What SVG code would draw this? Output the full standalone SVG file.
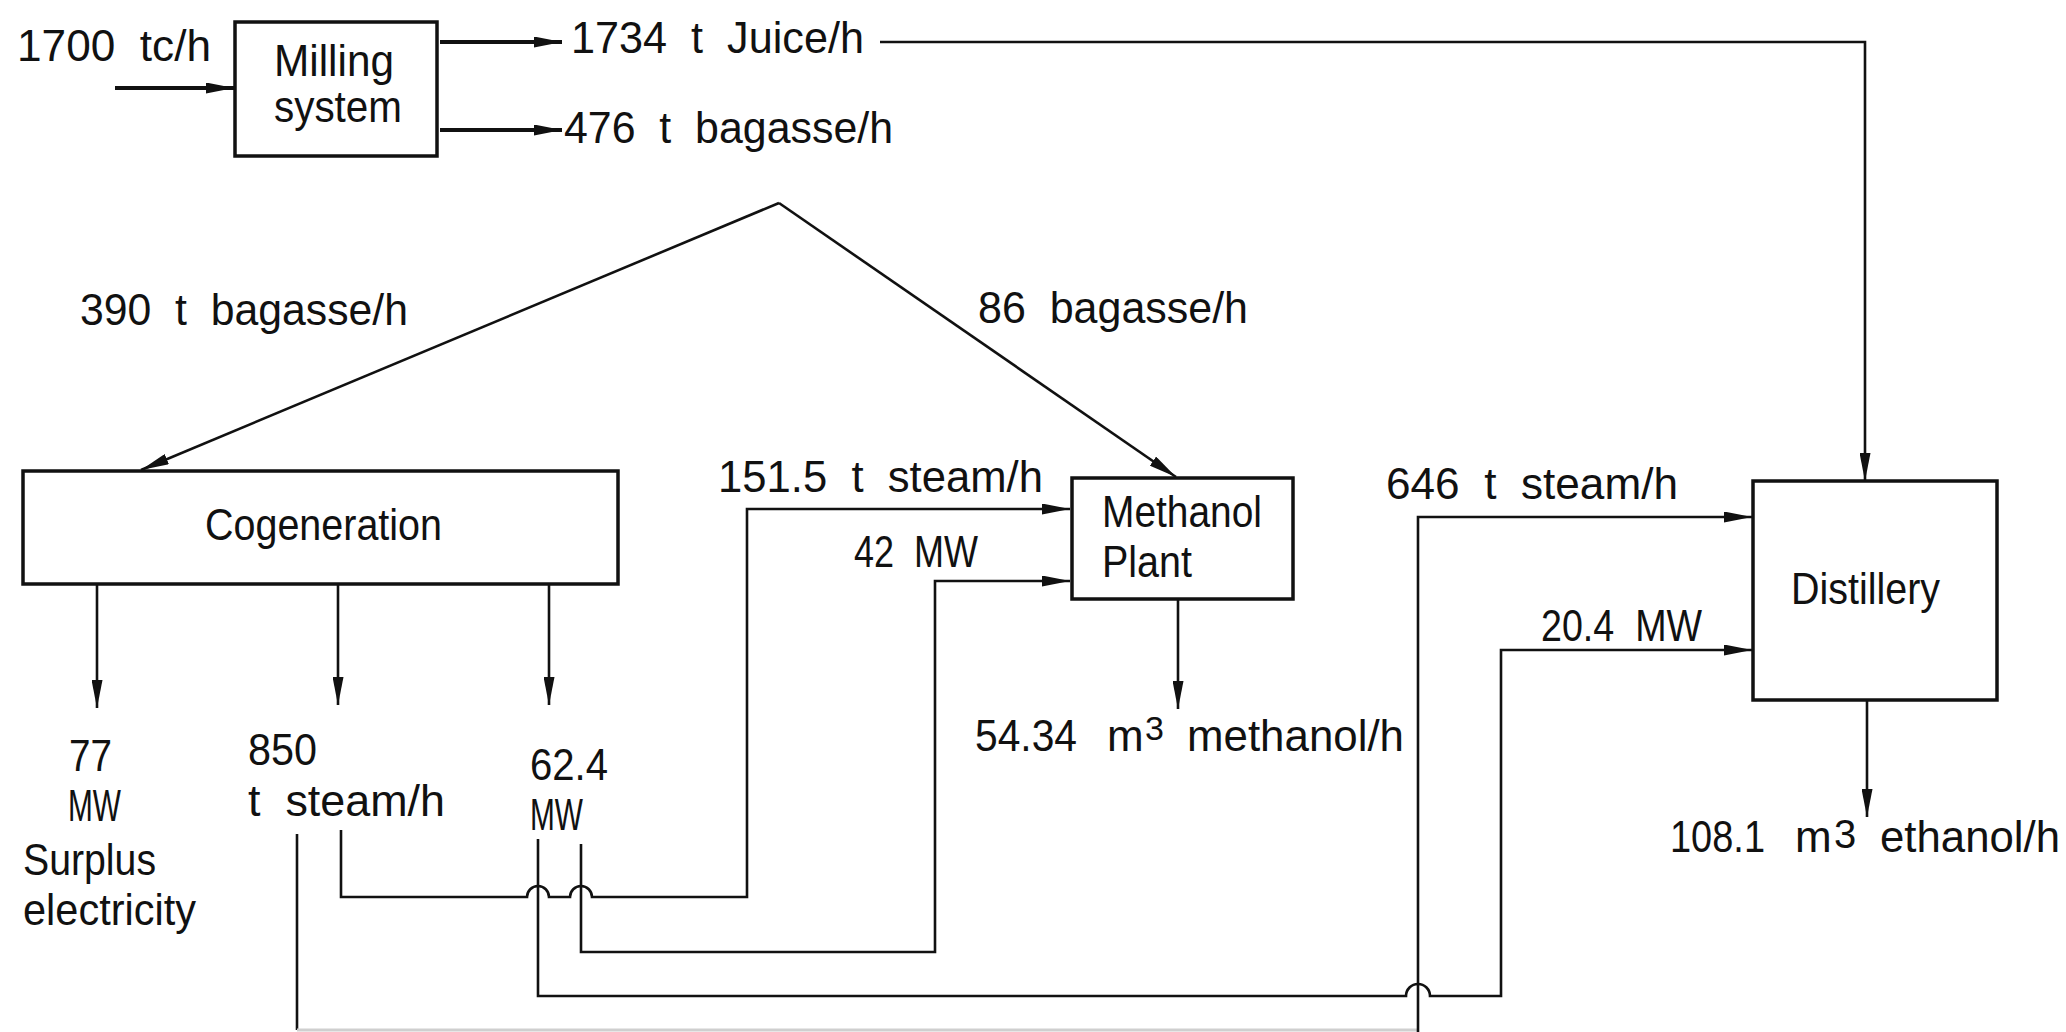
<svg xmlns="http://www.w3.org/2000/svg" width="2066" height="1032" viewBox="0 0 2066 1032">
<defs>
<marker id="ah" viewBox="0 0 28 11" refX="28" refY="5.5" markerWidth="28" markerHeight="11" markerUnits="userSpaceOnUse" orient="auto">
<path d="M0,0 L28,5.5 L0,11 z" fill="#111"/>
</marker>
</defs>
<style>
.t{font-family:"Liberation Sans","DejaVu Sans",sans-serif;font-size:44px;fill:#111}
.box{fill:#fff;stroke:#111;stroke-width:3.5}
.c{fill:none;stroke:#111;stroke-width:2.6}
.ct{fill:none;stroke:#111;stroke-width:4}
.a{marker-end:url(#ah)}
</style>
<rect width="2066" height="1032" fill="#fff"/>
<g id="connectors">
<path class="ct a" d="M115,88 H234"/>
<path class="ct a" d="M440,42 H562"/>
<path class="ct a" d="M440,130 H562"/>
<path class="c a" d="M880,42 H1865 V481"/>
<path class="c a" d="M779,203 L141,470"/>
<path class="c a" d="M779,203 L1176,477"/>
<path class="c a" d="M97,584 V708"/>
<path class="c a" d="M338,584 V705"/>
<path class="c a" d="M549,584 V705"/>
<path class="c a" d="M341,830 V897 H527 A11,11 0 0 1 549,897 H570 A11,11 0 0 1 592,897 H747 V509 H1070"/>
<path class="c a" d="M581,844 V952 H935 V581 H1070"/>
<path class="c a" d="M538,839 V996 H1406 A12,12 0 0 1 1430,996 H1501 V650 H1752"/>
<path class="c" d="M297,834 V1030"/>
<path fill="none" stroke="#cfcfcf" stroke-width="3" d="M297,1030 H1418"/>
<path class="c a" d="M1418,1032 V517 H1752"/>
<path class="c a" d="M1178,599 V709"/>
<path class="c a" d="M1867,700 V817"/>
</g>
<g id="milling">
<rect class="box" x="235" y="22" width="202" height="134"/>
<text class="t" x="274" y="76" textLength="120" lengthAdjust="spacingAndGlyphs">Milling</text>
<text class="t" x="274" y="122" textLength="128" lengthAdjust="spacingAndGlyphs">system</text>
</g>
<g id="cogeneration">
<rect class="box" x="23" y="471" width="595" height="113"/>
<text class="t" x="205" y="540" textLength="237" lengthAdjust="spacingAndGlyphs">Cogeneration</text>
</g>
<g id="methanol">
<rect class="box" x="1072" y="478" width="221" height="121"/>
<text class="t" x="1102" y="527" textLength="160" lengthAdjust="spacingAndGlyphs">Methanol</text>
<text class="t" x="1102" y="577" textLength="90" lengthAdjust="spacingAndGlyphs">Plant</text>
</g>
<g id="distillery">
<rect class="box" x="1753" y="481" width="244" height="219"/>
<text class="t" x="1791" y="604" textLength="149" lengthAdjust="spacingAndGlyphs">Distillery</text>
</g>
<g id="labels">
<text class="t" x="17" y="61" textLength="194" lengthAdjust="spacingAndGlyphs" xml:space="preserve">1700  tc/h</text>
<text class="t" x="571" y="53" textLength="293" lengthAdjust="spacingAndGlyphs" xml:space="preserve">1734  t  Juice/h</text>
<text class="t" x="564" y="143" textLength="329" lengthAdjust="spacingAndGlyphs" xml:space="preserve">476  t  bagasse/h</text>
<text class="t" x="80" y="325" textLength="328" lengthAdjust="spacingAndGlyphs" xml:space="preserve">390  t  bagasse/h</text>
<text class="t" x="978" y="323" textLength="270" lengthAdjust="spacingAndGlyphs" xml:space="preserve">86  bagasse/h</text>
<text class="t" x="718" y="492" textLength="325" lengthAdjust="spacingAndGlyphs" xml:space="preserve">151.5  t  steam/h</text>
<text class="t" x="854" y="567" textLength="124" lengthAdjust="spacingAndGlyphs" xml:space="preserve">42  MW</text>
<text class="t" x="1386" y="499" textLength="292" lengthAdjust="spacingAndGlyphs" xml:space="preserve">646  t  steam/h</text>
<text class="t" x="1541" y="641" textLength="161" lengthAdjust="spacingAndGlyphs" xml:space="preserve">20.4  MW</text>
<text class="t" x="69" y="771" textLength="43" lengthAdjust="spacingAndGlyphs">77</text>
<text class="t" x="68" y="821" textLength="53" lengthAdjust="spacingAndGlyphs">MW</text>
<text class="t" x="23" y="875" textLength="133" lengthAdjust="spacingAndGlyphs">Surplus</text>
<text class="t" x="23" y="925" textLength="173" lengthAdjust="spacingAndGlyphs">electricity</text>
<text class="t" x="248" y="765" textLength="69" lengthAdjust="spacingAndGlyphs">850</text>
<text class="t" x="248" y="816" textLength="197" lengthAdjust="spacingAndGlyphs" xml:space="preserve">t  steam/h</text>
<text class="t" x="530" y="780" textLength="78" lengthAdjust="spacingAndGlyphs">62.4</text>
<text class="t" x="530" y="830" textLength="53" lengthAdjust="spacingAndGlyphs">MW</text>
<text class="t" y="751"><tspan x="975" textLength="102" lengthAdjust="spacingAndGlyphs">54.34</tspan><tspan x="1107">m</tspan><tspan x="1145" y="740" font-size="34">3</tspan><tspan x="1187" y="751" textLength="217" lengthAdjust="spacingAndGlyphs">methanol/h</tspan></text>
<text class="t" y="852"><tspan x="1670" textLength="95" lengthAdjust="spacingAndGlyphs">108.1</tspan><tspan x="1795">m</tspan><tspan x="1834" y="848" font-size="40">3</tspan><tspan x="1880" y="852" textLength="180" lengthAdjust="spacingAndGlyphs">ethanol/h</tspan></text>
</g>
</svg>
